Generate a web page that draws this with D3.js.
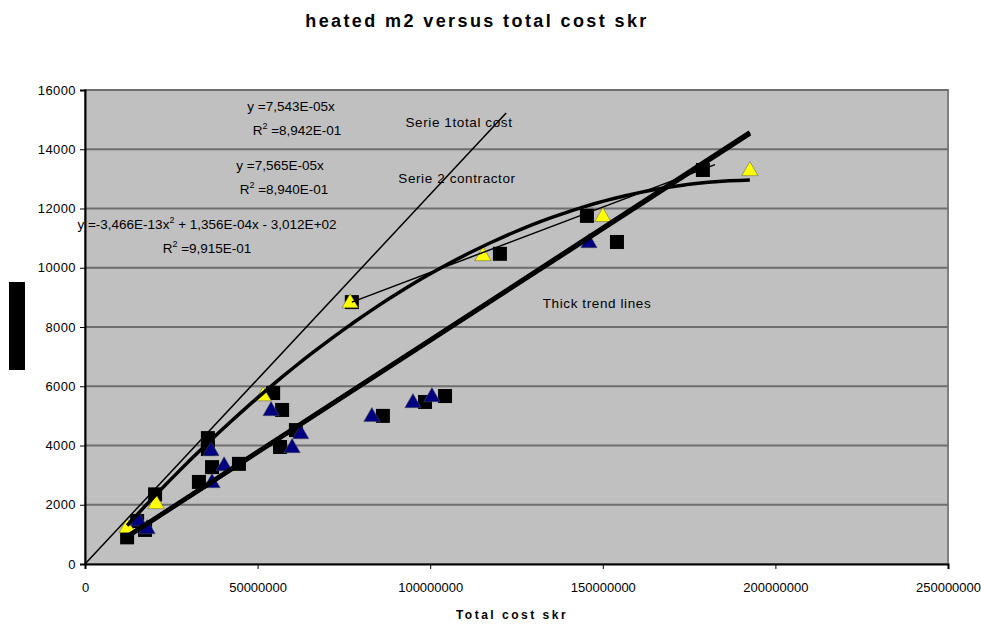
<!DOCTYPE html>
<html>
<head>
<meta charset="utf-8">
<script src="https://cdn.jsdelivr.net/npm/d3@7"></script>
<style>
  body { margin: 0; background: #fff; }
</style>
</head>
<body>
<div class="scatterGraph"></div>
<script>
// tick labels
const xTicks = [0, 50000000, 100000000, 150000000, 200000000, 250000000];
const yTicks = [0, 2000, 4000, 6000, 8000, 10000, 12000, 14000, 16000];

// black squares
const squareX = [12.2e6, 15.1e6, 17.4e6, 20.3e6, 33.0e6, 36.8e6, 44.6e6, 35.6e6, 35.6e6, 56.5e6, 61.1e6,
                 54.5e6, 57.1e6, 77.3e6, 86.3e6, 98.5e6, 104.3e6, 120.2e6, 145.4e6, 154.1e6, 179.0e6];
const squareY = [900, 1450, 1150, 2350, 2770, 3270, 3380, 4250, 3880, 3950, 4520,
                 5770, 5200, 8840, 5000, 5470, 5670, 10470, 11750, 10870, 13300];

// yellow triangles
const yellowX = [12.2e6, 20.6e6, 51.6e6, 76.8e6, 115.3e6, 150.0e6, 192.6e6];
const yellowY = [1250, 2060, 5700, 8840, 10430, 11750, 13300];

// navy triangles
const navyX = [15.5e6, 18.0e6, 36.5e6, 40.3e6, 36.8e6, 60.0e6, 62.5e6, 53.9e6, 83.1e6, 95.0e6, 100.5e6, 146.0e6];
const navyY = [1480, 1215, 3850, 3340, 2770, 3950, 4420, 5200, 5000, 5470, 5670, 10870];

// thin lines (end points)
const thinTotalX = [0, 122e6];
const thinTotalY = [0, 15220];
const thinContractorX = [77.3e6, 182.5e6];
const thinContractorY = [8840, 13480];

// thick trend lines (coefficients printed on the chart)
const linearSlopes = [7.543e-5, 7.565e-5];
const polyCoef = [-3.466e-13, 1.356e-4, -301.2];

const width = 981, height = 626;
const margin = { top: 90, right: 33, bottom: 62, left: 85 };

function drawGraph() {
    const svg = d3.select('.scatterGraph')
        .append('svg')
        .attr('width', width)
        .attr('height', height)
        .attr('style', 'font-family: "Liberation Sans", Arial, sans-serif');

    const scaleX = d3.scaleLinear()
        .domain([0, 250000000])
        .range([margin.left, width - margin.right]);

    const scaleY = d3.scaleLinear()
        .domain([0, 16000])
        .range([height - margin.bottom, margin.top]);

    // plot background
    svg.append('rect')
        .attr('x', margin.left)
        .attr('y', margin.top)
        .attr('width', width - margin.right - margin.left)
        .attr('height', height - margin.bottom - margin.top)
        .attr('fill', '#c0c0c0')
        .attr('stroke', '#808080')
        .attr('stroke-width', 2);

    // gridlines
    svg.append('g')
        .selectAll('line')
        .data(yTicks.filter(d => d > 0))
        .join('line')
        .attr('x1', margin.left)
        .attr('x2', width - margin.right)
        .attr('y1', d => scaleY(d))
        .attr('y2', d => scaleY(d))
        .attr('stroke', '#6e6e6e')
        .attr('stroke-width', 2);

    // axes
    const yAxis = svg.append('g')
        .attr('transform', `translate(${margin.left}, 0)`)
        .call(d3.axisLeft(scaleY).tickValues(yTicks).tickFormat(d3.format('d')).tickSize(5).tickPadding(4));
    const xAxis = svg.append('g')
        .attr('transform', `translate(0, ${height - margin.bottom})`)
        .call(d3.axisBottom(scaleX).tickValues(xTicks).tickFormat(d3.format('d')).tickSize(5).tickPadding(14));
    [xAxis, yAxis].forEach(a => {
        a.select('.domain').attr('stroke', '#000').attr('stroke-width', 2);
        a.selectAll('.tick line').attr('stroke', '#000');
        a.selectAll('text')
            .attr('fill', '#000')
            .style('font-family', '"Liberation Sans", Arial, sans-serif')
            .style('font-size', '13px');
    });
    yAxis.selectAll('text').style('letter-spacing', '0.4px');

    // markers
    const squares = squareX.map((x, i) => ({ x: x, y: squareY[i] }));
    svg.append('g')
        .selectAll('rect')
        .data(squares)
        .join('rect')
        .attr('x', d => scaleX(d.x) - 7)
        .attr('y', d => scaleY(d.y) - 7)
        .attr('width', 14)
        .attr('height', 14)
        .attr('fill', '#000');

    const tri = d3.symbol().type(d3.symbolTriangle).size(115);
    const triangles = [];
    yellowX.forEach((x, i) => triangles.push({ x: x, y: yellowY[i], c: '#ffff00' }));
    navyX.forEach((x, i) => triangles.push({ x: x, y: navyY[i], c: '#000080' }));
    svg.append('g')
        .selectAll('path')
        .data(triangles)
        .join('path')
        .attr('d', tri)
        .attr('transform', d => `translate(${scaleX(d.x)}, ${scaleY(d.y) + 1})`)
        .attr('fill', d => d.c)
        .attr('stroke', '#555')
        .attr('stroke-width', 0.5);

    // lines
    const line = d3.line().x(d => scaleX(d[0])).y(d => scaleY(d[1]));
    const allX = squareX.concat(yellowX, navyX);
    const [xMin, xMax] = d3.extent(allX);

    svg.append('path')
        .attr('d', line(thinTotalX.map((x, i) => [x, thinTotalY[i]])))
        .attr('fill', 'none').attr('stroke', '#000').attr('stroke-width', 1.5);
    svg.append('path')
        .attr('d', line(thinContractorX.map((x, i) => [x, thinContractorY[i]])))
        .attr('fill', 'none').attr('stroke', '#000').attr('stroke-width', 1.5);

    linearSlopes.forEach(k => {
        svg.append('path')
            .attr('d', line([[xMin, k * xMin], [xMax, k * xMax]]))
            .attr('fill', 'none').attr('stroke', '#000').attr('stroke-width', 4.5);
    });

    const polyPts = d3.range(xMin, xMax + 1, (xMax - xMin) / 60)
        .map(x => [x, polyCoef[0] * x * x + polyCoef[1] * x + polyCoef[2]]);
    svg.append('path')
        .attr('d', line(polyPts))
        .attr('fill', 'none').attr('stroke', '#000').attr('stroke-width', 3.5)
        .attr('stroke-linejoin', 'round');

    // annotations: [before, superscript, after]
    const note = (x, y, before, sup, after, spacing) => {
        const t = svg.append('text')
            .attr('x', x).attr('y', y)
            .attr('text-anchor', 'middle')
            .style('font-size', '13.5px')
            .style('letter-spacing', (spacing || 0) + 'px')
            .attr('fill', '#000');
        t.append('tspan').text(before);
        if (sup) {
            t.append('tspan').attr('dy', -6).style('font-size', '9px').text(sup);
            t.append('tspan').attr('dy', 6).text(after);
        }
    };
    note(291, 111, 'y =7,543E-05x');
    note(297, 135, 'R', '2', ' =8,942E-01');
    note(280, 170, 'y =7,565E-05x');
    note(284, 194, 'R', '2', ' =8,940E-01');
    note(207, 229, 'y =-3,466E-13x', '2', ' + 1,356E-04x - 3,012E+02');
    note(207, 253, 'R', '2', ' =9,915E-01');
    note(459, 127, 'Serie 1total cost', null, null, 0.6);
    note(457, 183, 'Serie 2 contractor', null, null, 0.6);
    note(597, 308, 'Thick trend lines', null, null, 0.6);

    // titles
    svg.append('text')
        .attr('x', 477).attr('y', 27)
        .attr('text-anchor', 'middle')
        .style('font-size', '18px').style('font-weight', 'bold')
        .style('letter-spacing', '2.4px')
        .text('heated m2 versus total cost skr');

    svg.append('text')
        .attr('x', 512).attr('y', 619)
        .attr('text-anchor', 'middle')
        .style('font-size', '12px').style('font-weight', 'bold')
        .style('letter-spacing', '2.5px')
        .text('Total cost skr');

    // y axis title box
    svg.append('rect')
        .attr('x', 9).attr('y', 282)
        .attr('width', 16).attr('height', 88)
        .attr('fill', '#000');
}

drawGraph();
</script>
</body>
</html>
